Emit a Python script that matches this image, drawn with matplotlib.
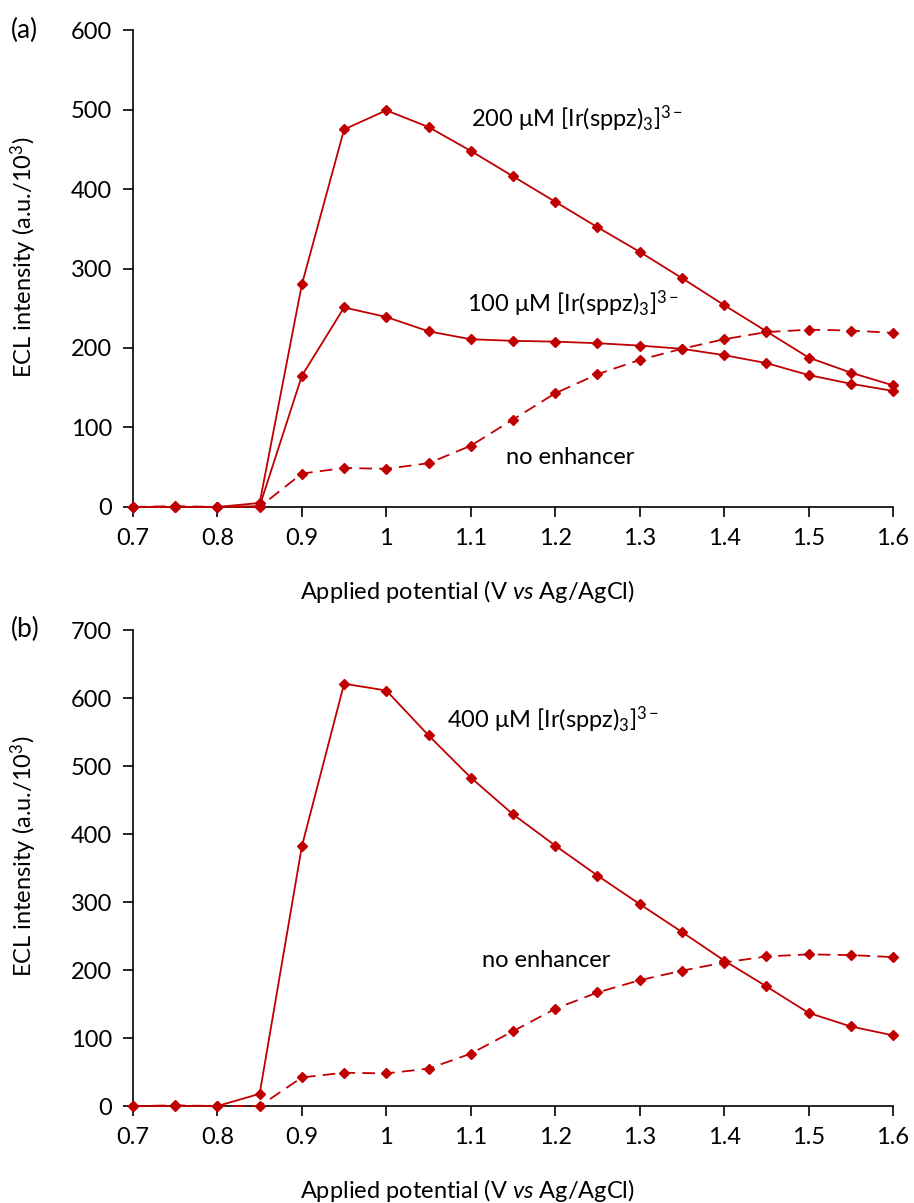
import matplotlib
matplotlib.use("Agg")
import matplotlib.pyplot as plt

plt.rcParams['font.family'] = ['Lato', 'DejaVu Sans']
plt.rcParams['mathtext.fontset'] = 'custom'
plt.rcParams['mathtext.rm'] = 'Lato'
plt.rcParams['mathtext.it'] = 'Lato:italic'
plt.rcParams['mathtext.bf'] = 'Lato:bold'

# Data
potential = [0.70, 0.75, 0.80, 0.85, 0.90, 0.95, 1.00, 1.05, 1.10, 1.15,
             1.20, 1.25, 1.30, 1.35, 1.40, 1.45, 1.50, 1.55, 1.60]
ir_200 = [0, 0, 0, 5, 280, 475, 499, 478, 448, 416,
          384, 352, 321, 288, 254, 221, 188, 169, 153]
ir_100 = [0, 0, 0, 1, 165, 251, 239, 221, 211, 209,
          208, 206, 203, 199, 191, 181, 166, 155, 146]
no_enh = [0, 1, 0, 0, 42, 49, 48, 55, 77, 110,
          143, 167, 185, 199, 211, 220, 223, 222, 219]
ir_400 = [0, 0, 0, 18, 382, 621, 611, 545, 483, 429,
          383, 339, 297, 256, 214, 176, 137, 117, 104]

red = '#C00000'
xticks = [0.7, 0.8, 0.9, 1.0, 1.1, 1.2, 1.3, 1.4, 1.5, 1.6]
xticklabels = ['0.7', '0.8', '0.9', '1', '1.1', '1.2', '1.3', '1.4', '1.5', '1.6']

fig = plt.figure(figsize=(9.14, 12.03), dpi=100)
ax1 = fig.add_axes([0.1455, 0.5786, 0.8315, 0.3964])
ax2 = fig.add_axes([0.1455, 0.0806, 0.8315, 0.3957])


def style(ax, ymax, step):
    ax.set_xlim(0.7, 1.6)
    ax.set_ylim(0, ymax)
    ax.set_xticks(xticks)
    ax.set_xticklabels(xticklabels)
    ax.set_yticks(range(0, ymax + 1, step))
    for s in ['top', 'right']:
        ax.spines[s].set_visible(False)
    ax.spines['left'].set_linewidth(1.2)
    ax.spines['bottom'].set_linewidth(1.2)
    ax.tick_params(axis='both', direction='out', length=7, width=1.2,
                   labelsize=17, pad=8)
    ax.set_ylabel('ECL intensity (a.u./10$^3$)', fontsize=17)
    ax.set_xlabel('Applied potential (V $\\it{vs}$ Ag/AgCl)', fontsize=17)
    ax.yaxis.set_label_coords(-0.124, 0.524)
    ax.xaxis.set_label_coords(0.44, -0.15)
    for lbl in ax.get_xticklabels() + ax.get_yticklabels():
        lbl.set_clip_on(False)


def curve(ax, y, ls):
    ax.plot(potential, y, color=red, lw=1.3, ls=ls, marker='D', ms=5.5,
            mfc=red, mec=red, clip_on=False, zorder=3,
            dashes=(7, 4) if ls == '--' else (None, None))


# Panel (a)
curve(ax1, ir_200, '-')
curve(ax1, ir_100, '-')
curve(ax1, no_enh, '--')
style(ax1, 600, 100)
ax1.text(1.1, 478, '200 μM [Ir(sppz)$_3$]$^{3-}$', fontsize=17, va='baseline')
ax1.text(1.095, 245, '100 μM [Ir(sppz)$_3$]$^{3-}$', fontsize=17, va='baseline')
ax1.text(1.142, 54, 'no enhancer', fontsize=17, va='baseline')

# Panel (b)
curve(ax2, ir_400, '-')
curve(ax2, no_enh, '--')
style(ax2, 700, 100)
ax2.text(1.072, 556, '400 μM [Ir(sppz)$_3$]$^{3-}$', fontsize=17, va='baseline')
ax2.text(1.1135, 204, 'no enhancer', fontsize=17, va='baseline')

fig.text(0.012, 0.975, '(a)', fontsize=19, va='center', ha='left')
fig.text(0.012, 0.477, '(b)', fontsize=19, va='center', ha='left')

fig.savefig('out.png', dpi=100)
